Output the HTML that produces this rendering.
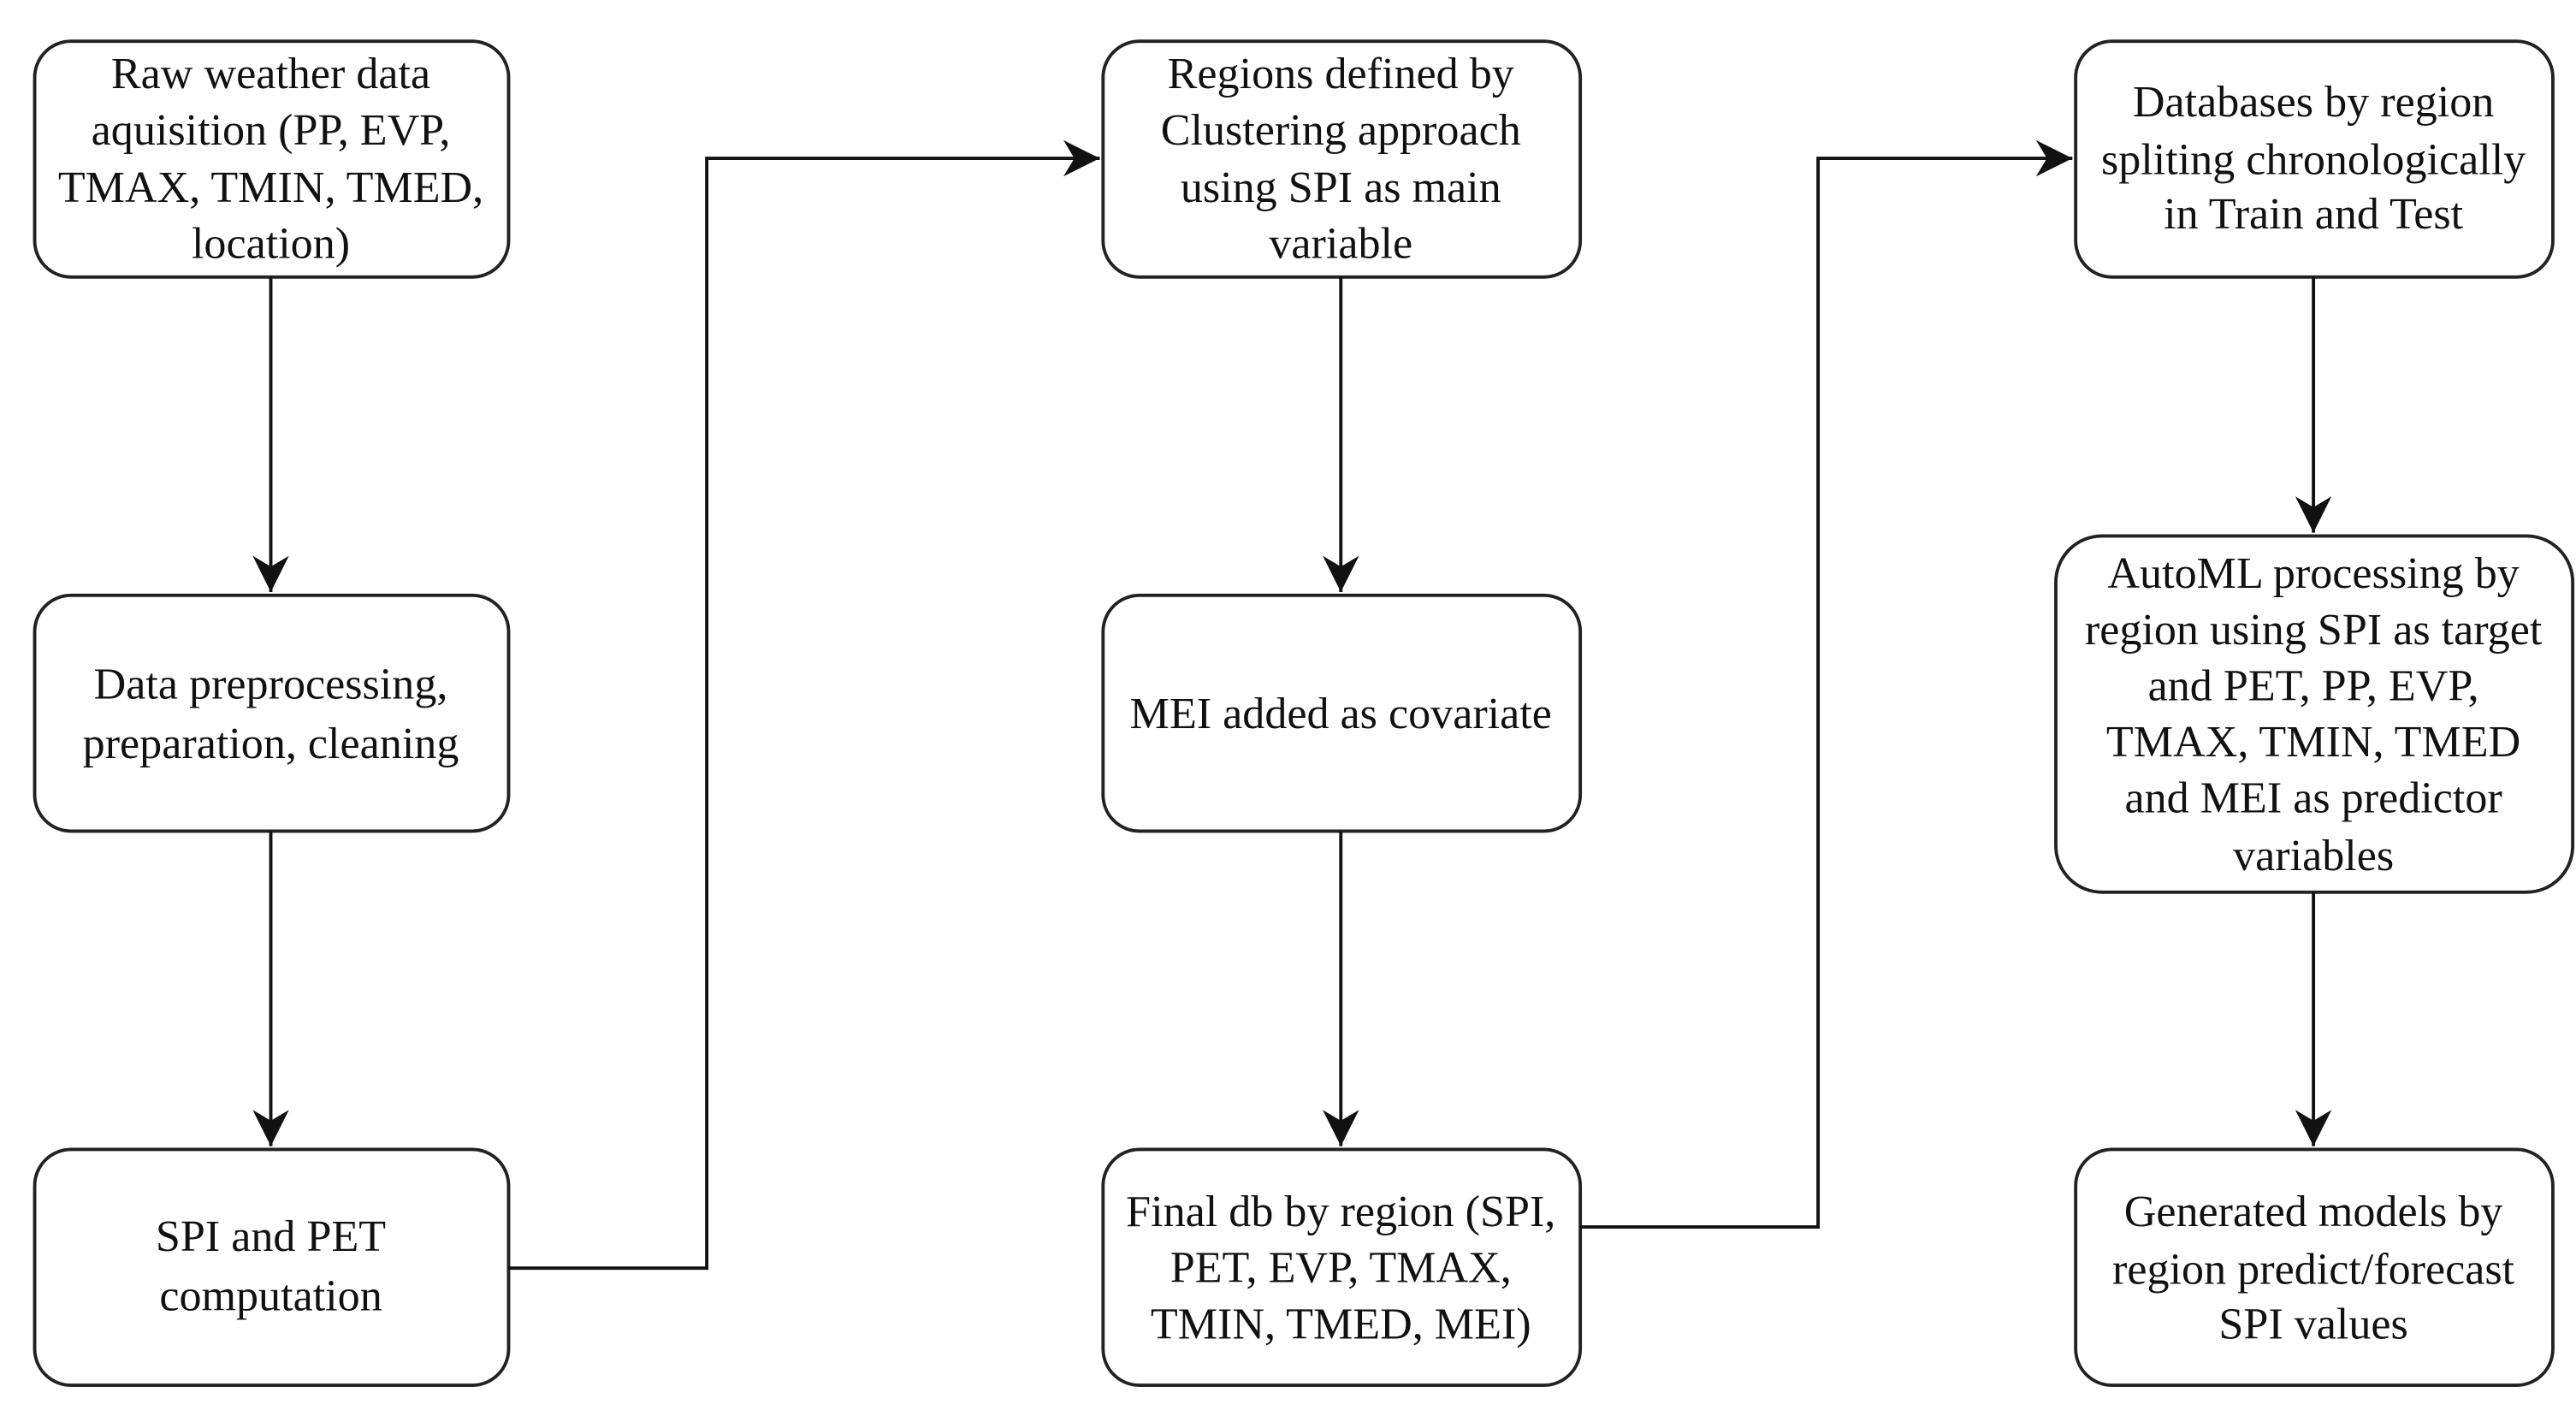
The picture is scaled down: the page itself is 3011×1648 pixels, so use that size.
<!DOCTYPE html>
<html><head><meta charset="utf-8"><style>html,body{margin:0;padding:0;background:#fff}svg{display:block}</style></head>
<body>
<svg width="3011" height="1648" viewBox="0 0 1560 855" preserveAspectRatio="none" xmlns="http://www.w3.org/2000/svg">
<defs><marker id="a" viewBox="0 0 10 10" refX="10" refY="5" markerWidth="9" markerHeight="9" markerUnits="userSpaceOnUse" orient="auto"><path d="M0,0 L10,5 L0,10 L3,5 Z" fill="#111"/></marker>
<marker id="b" viewBox="0 0 10 10" refX="10" refY="5" markerWidth="22" markerHeight="22" markerUnits="userSpaceOnUse" orient="auto"><path d="M0,0 L10,5 L0,10 L3,5 Z" fill="#111"/></marker></defs>
<g fill="#fff" stroke="#222" stroke-width="2">
<rect x="21" y="25" width="287" height="143" rx="22"/>
<rect x="21" y="361" width="287" height="143" rx="22"/>
<rect x="21" y="697" width="287" height="143" rx="22"/>
<rect x="668" y="25" width="289" height="143" rx="22"/>
<rect x="668" y="361" width="289" height="143" rx="22"/>
<rect x="668" y="697" width="289" height="143" rx="22"/>
<rect x="1257" y="25" width="289" height="143" rx="22"/>
<rect x="1245" y="325" width="313" height="216" rx="28"/>
<rect x="1257" y="697" width="289" height="143" rx="22"/>
</g>
<g fill="none" stroke="#111" stroke-width="2" marker-end="url(#b)">
<path d="M164,168 V359"/><path d="M164,504 V695"/>
<path d="M812,168 V359"/><path d="M812,504 V695"/>
<path d="M1401,168 V323"/><path d="M1401,541 V695"/>
<path d="M308,769 H428 V96 H666"/>
<path d="M957,744 H1101 V96 H1255"/>
</g>
<g font-family="Liberation Serif, serif" font-size="27" text-anchor="middle" fill="#111" dominant-baseline="central">
<text x="164" y="45">Raw weather data</text><text x="164" y="79">aquisition (PP, EVP,</text><text x="164" y="114">TMAX, TMIN, TMED,</text><text x="164" y="148">location)</text>
<text x="164" y="415">Data preprocessing,</text><text x="164" y="451">preparation, cleaning</text>
<text x="164" y="750">SPI and PET</text><text x="164" y="786">computation</text>
<text x="812" y="45">Regions defined by</text><text x="812" y="79">Clustering approach</text><text x="812" y="114">using SPI as main</text><text x="812" y="148">variable</text>
<text x="812" y="433">MEI added as covariate</text>
<text x="812" y="735">Final db by region (SPI,</text><text x="812" y="769">PET, EVP, TMAX,</text><text x="812" y="803">TMIN, TMED, MEI)</text>
<text x="1401" y="62">Databases by region</text><text x="1401" y="97">spliting chronologically</text><text x="1401" y="130">in Train and Test</text>
<text x="1401" y="348">AutoML processing by</text><text x="1401" y="382">region using SPI as target</text><text x="1401" y="416">and PET, PP, EVP,</text><text x="1401" y="450">TMAX, TMIN, TMED</text><text x="1401" y="484">and MEI as predictor</text><text x="1401" y="519">variables</text>
<text x="1401" y="735">Generated models by</text><text x="1401" y="770">region predict/forecast</text><text x="1401" y="803">SPI values</text>
</g>
</svg>
</body></html>
